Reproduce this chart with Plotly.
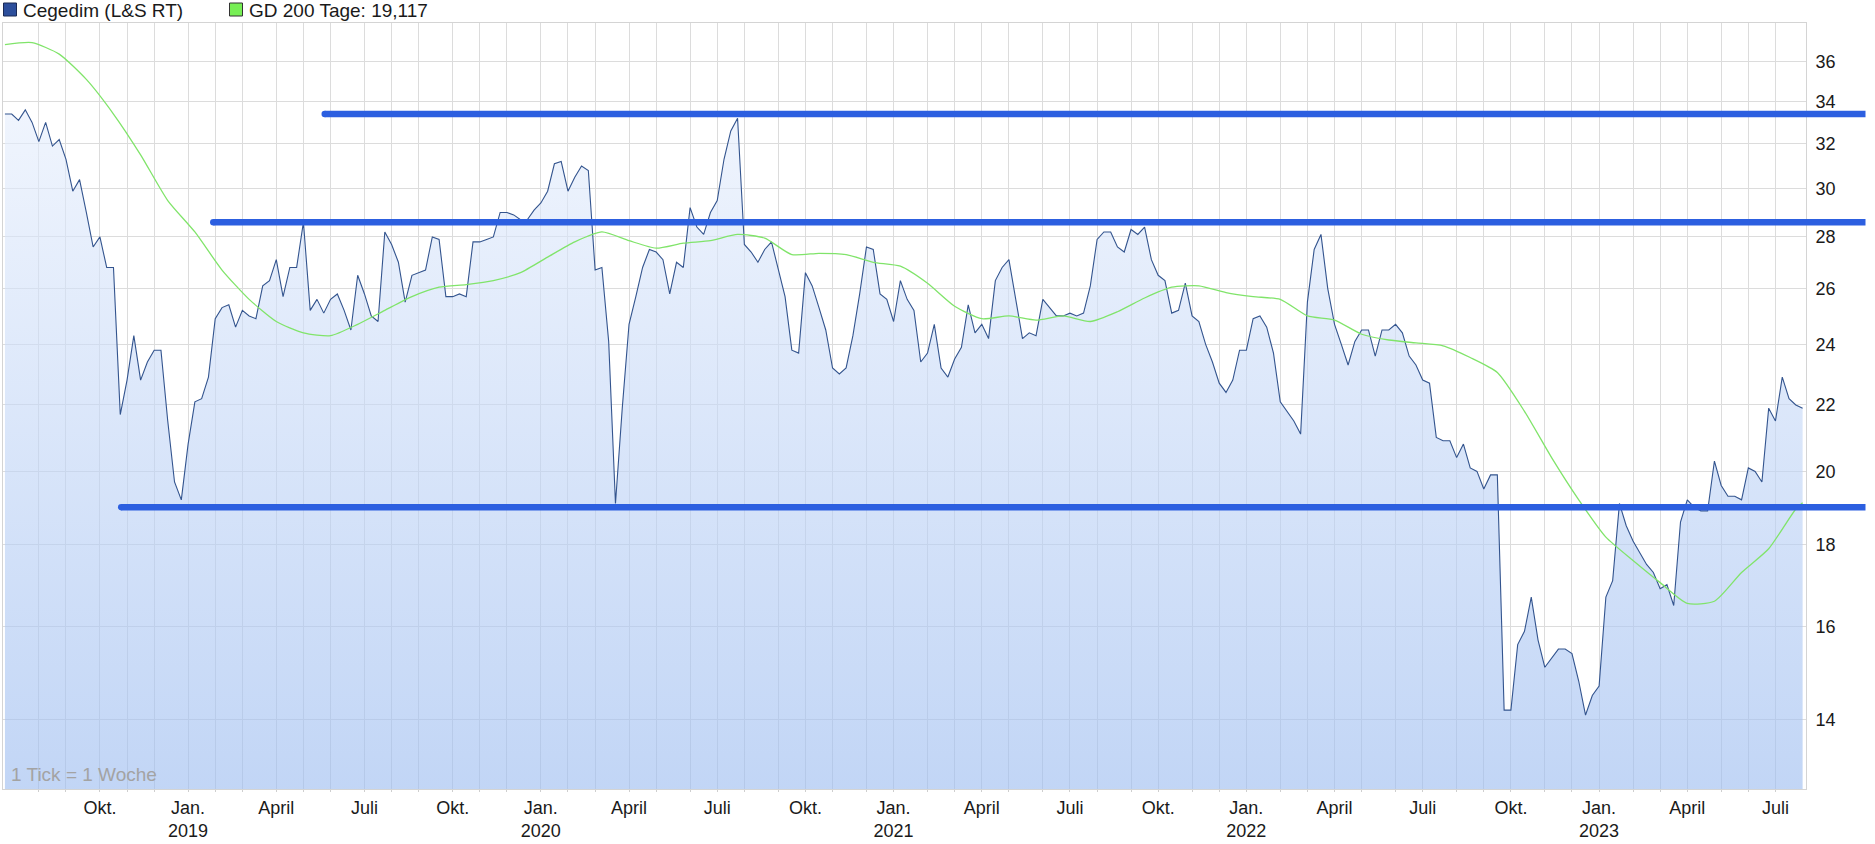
import math
import pandas as pd
import plotly.graph_objects as go

# ---------------- data ----------------
start_date = "2018-07-01"          # first weekly tick (Sunday)
price = [
    33.4, 33.4, 33.1, 33.6, 33.0, 32.1, 33.0, 31.9, 32.2, 31.3,
    29.9, 30.4, 29.0, 27.6, 28.0, 26.8, 26.8, 21.7, 22.8, 24.3,
    22.8, 23.4, 23.8, 23.8, 21.5, 19.7, 19.2, 20.8, 22.1, 22.2,
    22.9, 24.9, 25.3, 25.4, 24.6, 25.2, 25.0, 24.9, 26.1, 26.3,
    27.1, 25.7, 26.8, 26.8, 28.6, 25.2, 25.6,
    25.1, 25.6, 25.8, 25.2, 24.5, 26.5, 25.8, 25.0, 24.8, 28.2,
    27.7, 27.0, 25.5, 26.5, 26.6, 26.7, 28.0, 27.9, 25.7, 25.7,
    25.8, 25.7, 27.8, 27.8, 27.9, 28.0, 29.0, 29.0, 28.9, 28.7,
    28.7, 29.1, 29.4, 29.9, 31.1, 31.2, 29.9, 30.5, 31.0, 30.8,
    26.7, 26.8, 24.1, 19.1,
    21.9, 24.7, 25.7, 26.8, 27.5, 27.4, 27.1, 25.8, 27.0, 26.8,
    29.2, 28.4, 28.1, 29.0, 29.5, 31.3, 32.6, 33.2, 27.7, 27.4,
    27.0, 27.5, 27.8, 26.7, 25.7, 23.8, 23.7, 26.6, 26.1, 25.3,
    24.5, 23.2, 23.0, 23.2, 24.3, 25.8, 27.6, 27.5, 25.8, 25.6,
    24.8, 26.3, 25.6, 25.2, 23.4,
    23.7, 24.7, 23.2, 22.9, 23.5, 23.9, 25.4, 24.4, 24.7, 24.2,
    26.3, 26.8, 27.1, 25.6, 24.2, 24.4, 24.3, 25.6, 25.3, 25.0,
    25.0, 25.1, 25.0, 25.1, 26.1, 27.9, 28.2, 28.2, 27.6, 27.4,
    28.3, 28.1, 28.4, 27.1, 26.5, 26.3, 25.1, 25.2, 26.2, 25.0,
    24.8, 24.0, 23.4, 22.7,
    22.4, 22.8, 23.8, 23.8, 24.9, 25.0, 24.6, 23.7, 22.1, 21.8,
    21.5, 21.1, 25.5, 27.5, 28.1, 26.0, 24.7, 24.0, 23.3, 24.1,
    24.5, 24.5, 23.6, 24.5, 24.5, 24.7, 24.4, 23.6, 23.3, 22.8,
    22.7, 21.0, 20.9, 20.9, 20.4, 20.8, 20.1, 20.0, 19.5, 19.9,
    19.9,
    14.2, 14.2, 15.6, 15.9, 16.7, 15.7, 15.1, 15.3, 15.5, 15.5,
    15.4, 14.8, 14.1, 14.5, 14.7, 16.7, 17.1, 19.1, 18.5, 18.1,
    17.8, 17.5, 17.3, 16.9, 17.0, 16.5, 18.6, 19.2, 19.0, 18.9,
    18.9, 20.3, 19.6, 19.3, 19.3, 19.2, 20.1, 20.0, 19.7, 21.9,
    21.5, 22.9, 22.2, 22.0, 21.9,
]

# GD 200 (200-day average), read every 4th week plus the last week
gd200_step = 4
gd200 = [
    36.9, 37.0, 36.4, 35.1, 33.4, 31.5, 29.5, 28.2, 26.7, 25.6,
    24.8, 24.4, 24.3, 24.7, 25.2, 25.7, 26.05, 26.15, 26.3, 26.6,
    27.2, 27.8, 28.2, 27.85, 27.55, 27.75, 27.85, 28.1, 27.95, 27.3,
    27.35, 27.3, 27.0, 26.85, 26.2, 25.35, 24.9, 25.0, 24.85, 25.0,
    24.8, 25.15, 25.65, 26.05, 26.1, 25.85, 25.7, 25.6, 25.0, 24.85,
    24.35, 24.15, 24.05, 23.95, 23.55, 23.05, 21.8, 20.4, 19.2, 18.2,
    17.6, 17.05, 16.55, 16.6, 17.3, 17.9, 18.95, 19.12,
]

# horizontal support / resistance levels and the date each starts
level_values = [33.4, 28.6, 19.0]
level_starts = ["2019-05-27", "2019-02-01", "2018-10-29"]

# labels
series_name = "Cegedim (L&S RT)"
gd_label = "GD 200 Tage: 19,117"
tick_note = "1 Tick = 1 Woche"
month_labels = {1: "Jan.", 4: "April", 7: "Juli", 10: "Okt."}
y_ticks = [14, 16, 18, 20, 22, 24, 26, 28, 30, 32, 34, 36]

# ---------------- derived ----------------
dates = pd.date_range(start_date, periods=len(price), freq="7D")
gd_idx = list(range(0, len(price), gd200_step)) + [len(price) - 1]
gd_dates = [dates[i] for i in gd_idx]

x_lo = dates[0] - pd.Timedelta(days=2)
x_hi = dates[-1] + pd.Timedelta(days=3.5)
y_lo, y_hi = 12.68, 38.06

tick_vals, tick_text = [], []
for i in range(1, len(dates)):
    if dates[i].month != dates[i - 1].month:
        m = dates[i].month
        lab = month_labels.get(m, "")
        if m == 1:
            lab += "<br>" + str(dates[i].year)
        tick_vals.append(dates[i])
        tick_text.append(lab)


def to_paper(d):
    return (pd.Timestamp(d) - x_lo) / (x_hi - x_lo)


FONT = "Liberation Sans, Arial, sans-serif"
LEVEL_COLOR = "#2c5fe0"

fig = go.Figure()

fig.add_trace(go.Scatter(
    x=dates, y=price, mode="lines",
    line=dict(color="#33548e", width=1.1),
    fill="tozeroy",
    fillgradient=dict(
        type="vertical",
        colorscale=[[0, "rgba(156,188,240,0.62)"], [1, "rgba(240,245,254,0.62)"]],
        start=y_lo, stop=y_hi,
    ),
    hoverinfo="skip", showlegend=False,
))

fig.add_trace(go.Scatter(
    x=gd_dates, y=gd200, mode="lines",
    line=dict(color="#80e46a", width=1.3, shape="spline", smoothing=0.6),
    hoverinfo="skip", showlegend=False,
))

# rounded start caps of the level lines
fig.add_trace(go.Scatter(
    x=level_starts, y=level_values, mode="markers",
    marker=dict(color=LEVEL_COLOR, size=6.5, line=dict(width=0)),
    cliponaxis=False, hoverinfo="skip", showlegend=False,
))

shapes = []
for v, s in zip(level_values, level_starts):
    shapes.append(dict(
        type="line", xref="paper", yref="y",
        x0=to_paper(s), x1=1.033, y0=v, y1=v,
        line=dict(color=LEVEL_COLOR, width=6.5), layer="above",
    ))

# legend squares
shapes.append(dict(type="rect", xref="paper", yref="paper",
                   xsizemode="pixel", ysizemode="pixel", xanchor=0, yanchor=1,
                   x0=0.5, x1=13.5, y0=7, y1=20,
                   fillcolor="#2d4f9c", line=dict(color="#1b2a55", width=1)))
shapes.append(dict(type="rect", xref="paper", yref="paper",
                   xsizemode="pixel", ysizemode="pixel", xanchor=0, yanchor=1,
                   x0=226.5, x1=239.5, y0=7, y1=20,
                   fillcolor="#77ef55", line=dict(color="#333333", width=1)))

annotations = [
    dict(text=series_name, xref="paper", yref="paper", x=0, y=1,
         xanchor="left", yanchor="middle", xshift=18, yshift=13,
         showarrow=False, font=dict(family=FONT, size=19, color="#1a1a1a")),
    dict(text=gd_label, xref="paper", yref="paper", x=0, y=1,
         xanchor="left", yanchor="middle", xshift=244, yshift=13,
         showarrow=False, font=dict(family=FONT, size=19, color="#1a1a1a")),
    dict(text=tick_note, xref="paper", yref="paper", x=0, y=0,
         xanchor="left", yanchor="middle", xshift=6, yshift=15,
         showarrow=False, font=dict(family=FONT, size=19, color="#a3a3a3")),
]

fig.update_layout(
    width=1875, height=844,
    margin=dict(l=3, r=69, t=23, b=55),
    paper_bgcolor="white", plot_bgcolor="white",
    showlegend=False, hovermode=False,
    shapes=shapes, annotations=annotations,
    xaxis=dict(
        type="date", range=[x_lo, x_hi],
        tickmode="array", tickvals=tick_vals, ticktext=tick_text,
        showgrid=True, gridcolor="#dcdcdc", gridwidth=1,
        ticks="outside", ticklen=2, tickcolor="#cfcfcf",
        tickfont=dict(family=FONT, size=18, color="#1a1a1a"),
        showline=True, mirror=True, linecolor="#d4d4d4", linewidth=1,
        zeroline=False,
    ),
    yaxis=dict(
        type="log", range=[math.log10(y_lo), math.log10(y_hi)],
        side="right",
        tickmode="array", tickvals=y_ticks, ticktext=[str(t) for t in y_ticks],
        showgrid=True, gridcolor="#dcdcdc", gridwidth=1,
        ticks="outside", ticklen=5, tickcolor="rgba(0,0,0,0)",
        tickfont=dict(family=FONT, size=18, color="#1a1a1a"),
        showline=True, mirror=True, linecolor="#d4d4d4", linewidth=1,
        zeroline=False,
    ),
)

fig.write_html(
    "out.html",
    config={"displayModeBar": False},
    post_script="document.body.style.margin='0px';document.body.style.overflow='hidden';",
)
